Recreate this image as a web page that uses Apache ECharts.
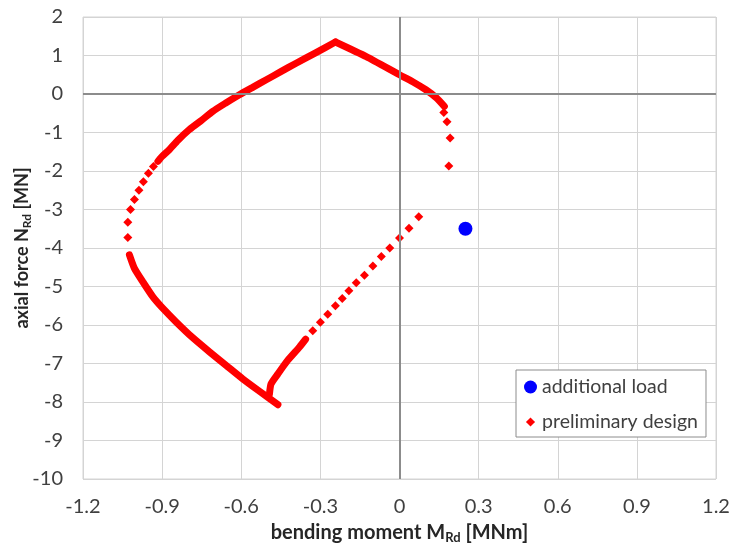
<!DOCTYPE html>
<html>
<head>
<meta charset="utf-8">
<script src="https://cdn.jsdelivr.net/npm/echarts@6/dist/echarts.min.js"></script>
<style>
  html, body { margin: 0; padding: 0; background: #fff; }
  #main { width: 732px; height: 550px; }
</style>
</head>
<body>
<div id="main"></div>
<script>
// values, [M (MNm), N (MN)]
const additionalLoad = [[0.25, -3.5]]

// dense part: upper left arc up to the peak
const upperArc = [
  [-0.916, -1.75], [-0.90, -1.62], [-0.872, -1.44], [-0.84, -1.2], [-0.796, -0.92],
  [-0.75, -0.68], [-0.708, -0.45], [-0.66, -0.24], [-0.607, -0.02], [-0.555, 0.18],
  [-0.505, 0.37], [-0.45, 0.58], [-0.392, 0.80], [-0.32, 1.06], [-0.243, 1.35]
]
// dense part: from the peak down to the right
const upperRight = [
  [-0.243, 1.35], [-0.126, 0.97], [0.0, 0.5], [0.05, 0.32], [0.10, 0.11],
  [0.14, -0.10], [0.17, -0.32]
]
// dense part: lower left branch to the bottom tip
const lowerLeft = [
  [-1.024, -4.18], [-1.005, -4.53], [-0.973, -4.88], [-0.935, -5.27], [-0.897, -5.57],
  [-0.847, -5.92], [-0.784, -6.33], [-0.72, -6.70], [-0.657, -7.05], [-0.594, -7.40],
  [-0.531, -7.72], [-0.461, -8.07]
]
// dense part: short piece rising from the bottom
const lowerRight = [
  [-0.493, -7.79], [-0.487, -7.53], [-0.461, -7.27], [-0.424, -6.92], [-0.379, -6.57],
  [-0.356, -6.37]
]
// separate diamonds
const sparsePoints = [
  [0.168, -0.48], [0.18, -0.72], [0.192, -1.14], [0.187, -1.87],
  [0.073, -3.19], [0.036, -3.49], [0.0, -3.74], [-0.037, -4.0], [-0.069, -4.22],
  [-0.101, -4.47], [-0.133, -4.71], [-0.164, -4.90], [-0.192, -5.11], [-0.217, -5.31],
  [-0.243, -5.50], [-0.272, -5.72], [-0.30, -5.93], [-0.329, -6.15],
  [-1.03, -3.73], [-1.03, -3.33], [-1.02, -3.0], [-1.005, -2.74], [-0.988, -2.50],
  [-0.971, -2.28], [-0.952, -2.06], [-0.933, -1.88]
]

const red = '#ff0000'
const font = 'Lato'
const textColor = '#404040'

const chart = echarts.init(document.getElementById('main'))

function denseLine(data) {
  return {
    name: 'preliminary design',
    type: 'line',
    data: data,
    showSymbol: false,
    symbol: 'diamond',
    smooth: 0.2,
    z: 3,
    itemStyle: { color: red, opacity: 1 },
    lineStyle: { color: red, width: 7, cap: 'round', join: 'round' }
  }
}

function titleRich(size) {
  return {
    a: { fontFamily: font, fontSize: size, fontWeight: 'bold', color: '#262626' },
    s: { fontFamily: font, fontSize: Math.round(size * 0.65), fontWeight: 'bold', color: '#262626', padding: [Math.round(size * 0.5), 0, 0, 0] }
  }
}

const option = {
  animation: false,
  textStyle: { fontFamily: font },
  grid: {
    left: 83, right: 16, top: 17, bottom: 71,
    outerBoundsMode: 'none',
    containLabel: false,
    show: true, borderColor: '#d4d4d4', borderWidth: 1
  },
  legend: {
    orient: 'vertical',
    left: 516,
    top: 370,
    padding: [7, 8, 5, 8],
    itemGap: 15,
    itemWidth: 13,
    itemHeight: 13,
    backgroundColor: '#fff',
    borderColor: '#8c8c8c',
    borderWidth: 1,
    textStyle: { fontFamily: font, fontSize: 19.5, color: textColor },
    data: [
      { name: 'additional load', icon: 'circle' },
      { name: 'preliminary design', icon: 'path://M0,0M20,20M10,3L17,10L10,17L3,10Z' }
    ]
  },
  xAxis: {
    type: 'value',
    min: -1.2, max: 1.2, interval: 0.3,
    name: '{a|bending moment M}{s|Rd}{a| [MNm]}',
    nameLocation: 'middle',
    nameGap: 42,
    nameMoveOverlap: false,
    nameTextStyle: { rich: titleRich(20) },
    axisLine: { show: false },
    axisTick: { show: false },
    axisLabel: { fontFamily: font, fontSize: 20, color: textColor, margin: 18 },
    splitLine: { lineStyle: { color: '#d4d4d4', width: 1 } }
  },
  yAxis: {
    type: 'value',
    min: -10, max: 2, interval: 1,
    name: '{a|axial force N}{s|Rd}{a| [MN]}',
    nameLocation: 'middle',
    nameGap: 50,
    nameMoveOverlap: false,
    nameTextStyle: { rich: titleRich(18) },
    axisLine: { show: false },
    axisTick: { show: false },
    axisLabel: { fontFamily: font, fontSize: 20, color: textColor, margin: 20 },
    splitLine: { lineStyle: { color: '#d4d4d4', width: 1 } }
  },
  series: [
    {
      name: 'zero lines',
      type: 'scatter',
      data: [],
      z: 1,
      markLine: {
        silent: true,
        symbol: 'none',
        label: { show: false },
        lineStyle: { color: '#8c8c8c', width: 2, type: 'solid' },
        data: [{ xAxis: 0 }, { yAxis: 0 }]
      }
    },
    {
      name: 'additional load',
      type: 'scatter',
      data: additionalLoad,
      symbol: 'circle',
      symbolSize: 14,
      z: 4,
      itemStyle: { color: '#0000ff', opacity: 1 }
    },
    {
      name: 'preliminary design',
      type: 'scatter',
      data: sparsePoints,
      symbol: 'diamond',
      symbolSize: 9,
      z: 3,
      itemStyle: { color: red, opacity: 1 }
    },
    denseLine(upperArc),
    denseLine(upperRight),
    denseLine(lowerLeft),
    denseLine(lowerRight)
  ]
}

chart.setOption(option)
</script>
</body>
</html>
